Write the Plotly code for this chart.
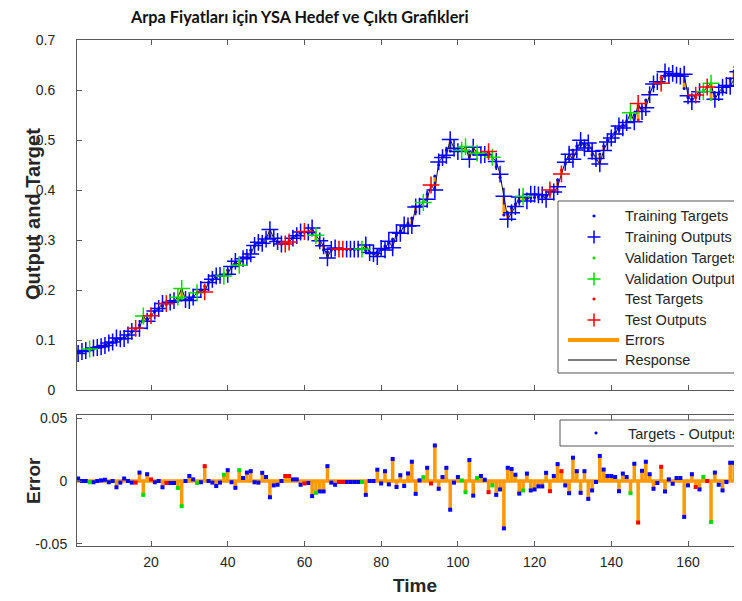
import plotly.graph_objects as go

# ---------------- data ----------------
time = list(range(1, 176))

targets = [
    0.075, 0.077, 0.079, 0.081, 0.083, 0.085, 0.087, 0.090, 0.093, 0.096,
    0.099, 0.101, 0.105, 0.110, 0.116, 0.122, 0.130, 0.137, 0.143, 0.150,
    0.157, 0.163, 0.168, 0.171, 0.174, 0.177, 0.180, 0.183, 0.181, 0.183,
    0.187, 0.193, 0.200, 0.208, 0.215, 0.220, 0.224, 0.228, 0.233, 0.240,
    0.246, 0.252, 0.258, 0.265, 0.272, 0.280, 0.288, 0.294, 0.300, 0.305,
    0.308, 0.300, 0.294, 0.292, 0.296, 0.300, 0.305, 0.310, 0.313, 0.315,
    0.314, 0.312, 0.300, 0.290, 0.280, 0.276, 0.280, 0.281, 0.281, 0.281,
    0.281, 0.281, 0.281, 0.281, 0.281, 0.279, 0.275, 0.273, 0.276, 0.281,
    0.288, 0.295, 0.302, 0.310, 0.318, 0.326, 0.334, 0.344, 0.356, 0.368,
    0.378, 0.392, 0.408, 0.428, 0.450, 0.468, 0.480, 0.478, 0.482, 0.480,
    0.480, 0.478, 0.478, 0.474, 0.476, 0.474, 0.472, 0.468, 0.462, 0.446,
    0.425, 0.350, 0.352, 0.364, 0.372, 0.376, 0.380, 0.384, 0.384, 0.385,
    0.386, 0.386, 0.388, 0.392, 0.400, 0.420, 0.440, 0.452, 0.462, 0.480,
    0.488, 0.490, 0.492, 0.480, 0.470, 0.462, 0.472, 0.488, 0.500, 0.508,
    0.515, 0.520, 0.530, 0.538, 0.545, 0.550, 0.540, 0.565, 0.580, 0.596,
    0.606, 0.615, 0.625, 0.628, 0.630, 0.631, 0.632, 0.630, 0.603, 0.585,
    0.582, 0.585, 0.590, 0.600, 0.606, 0.581, 0.588, 0.592, 0.598, 0.608,
    0.622, 0.638, 0.645, 0.645, 0.648,
]

# errors = targets - outputs
errors = [
    0.0020, 0.0000, 0.0000, -0.0010, -0.0010, 0.0000, 0.0005, 0.0010, -0.0010, 0.0000,
    -0.0050, -0.0013, 0.0020, 0.0000, -0.0013, -0.0013, 0.0067, -0.0110, 0.0054, 0.0013,
    -0.0010, 0.0000, -0.0050, -0.0016, -0.0016, -0.0016, -0.0056, -0.0200, 0.0000, 0.0040,
    0.0013, -0.0016, -0.0010, 0.0118, 0.0000, -0.0013, -0.0040, -0.0013, 0.0050, 0.0086,
    -0.0010, -0.0054, 0.0086, 0.0024, 0.0067, 0.0078, -0.0010, -0.0013, 0.0065, 0.0032,
    -0.0129, -0.0035, -0.0030, 0.0000, 0.0040, 0.0040, 0.0013, 0.0013, -0.0030, -0.0020,
    -0.0016, -0.0120, -0.0094, -0.0083, -0.0083, 0.0118, -0.0013, -0.0030, -0.0008, -0.0008,
    -0.0008, -0.0008, -0.0008, -0.0008, -0.0008, -0.0110, 0.0000, 0.0000, 0.0090, -0.0020,
    0.0078, -0.0027, 0.0175, -0.0048, 0.0046, -0.0040, 0.0060, 0.0153, -0.0102, 0.0005,
    0.0030, 0.0105, -0.0020, 0.0282, -0.0062, 0.0032, 0.0105, -0.0228, -0.0013, 0.0032,
    0.0005, -0.0089, 0.0167, -0.0116, 0.0024, 0.0040, 0.0010, -0.0089, -0.0035, -0.0110,
    -0.0067, -0.0376, 0.0105, 0.0095, 0.0050, -0.0100, -0.0075, 0.0059, -0.0075, -0.0067,
    -0.0043, -0.0043, 0.0065, -0.0081, 0.0040, 0.0134, 0.0078, -0.0035, -0.0097, 0.0185,
    0.0078, -0.0094, 0.0078, -0.0142, -0.0075, -0.0008, 0.0199, 0.0091, 0.0040, 0.0040,
    0.0032, -0.0081, 0.0059, 0.0032, -0.0097, 0.0137, -0.0330, 0.0081, 0.0153, 0.0054,
    -0.0062, -0.0016, 0.0113, -0.0083, 0.0013, -0.0022, 0.0024, 0.0024, -0.0285, -0.0035,
    0.0054, -0.0048, -0.0067, 0.0032, 0.0000, -0.0325, 0.0067, -0.0030, -0.0075, -0.0008,
    0.0145, 0.0145, 0.0086, -0.0008, 0.0050,
]

validation_idx = [4, 18, 27, 28, 32, 39, 43, 63, 75, 91, 101, 102, 105, 109, 117, 145, 164, 166]
test_idx = [16, 20, 24, 34, 55, 56, 60, 69, 70, 93, 108, 124, 127, 147, 153, 162, 165]

x_ticks = [20, 40, 60, 80, 100, 120, 140, 160]
y_ticks_top = [0, 0.1, 0.2, 0.3, 0.4, 0.5, 0.6, 0.7]
y_ticks_err = [-0.05, 0, 0.05]
y_ticklabels_err = ["-0.05", "0", "0.05"]

legend_labels = ["Training Targets", "Training Outputs", "Validation Targets",
                 "Validation Outputs", "Test Targets", "Test Outputs", "Errors", "Response"]
legend2_label = "Targets - Outputs"
title_text = "Arpa Fiyatları için YSA Hedef ve Çıktı Grafikleri"

# ---------------- derived ----------------
outputs = [round(t - e, 4) for t, e in zip(targets, errors)]
train_idx = [t for t in time if t not in validation_idx and t not in test_idx]

BLUE, GREEN, RED = "#0000FF", "#00DD00", "#FF0000"
ORANGE = "#FF9900"
AX = "#5a5a5a"
TXT = "#262626"
FONT = "Liberation Sans"

# geometry: the page body has an 8px margin, so the figure is placed at (8, 8)
OFF = 8
W, H = 742 - OFF, 601 - OFF
ML, MR, MT, MB = 77 - OFF, 0, 40 - OFF, 601 - 546
PW, PH = W - ML - MR, H - MT - MB


def px(x):  # reference-screen pixel -> paper x
    return (x - OFF - ML) / PW


def py(y):  # reference-screen pixel -> paper y
    return (H - MB - (y - OFF)) / PH


def pick(values, idx):
    return [values[i - 1] for i in idx]


fig = go.Figure()

# top plot: error segments
ex, ey = [], []
for t, tg, o in zip(time, targets, outputs):
    ex += [t, t, None]
    ey += [tg, o, None]
fig.add_trace(go.Scatter(x=ex, y=ey, mode="lines", line=dict(color=ORANGE, width=3),
                         name="Errors", xaxis="x", yaxis="y"))
# response line
fig.add_trace(go.Scatter(x=time, y=outputs, mode="lines", line=dict(color="#111111", width=1),
                         name="Response", xaxis="x", yaxis="y"))

sets = [("Training", train_idx, BLUE), ("Validation", validation_idx, GREEN),
        ("Test", test_idx, RED)]
for name, idx, col in sets:
    fig.add_trace(go.Scatter(x=idx, y=pick(targets, idx), mode="markers",
                             marker=dict(symbol="circle", size=3, color=col),
                             name=f"{name} Targets", xaxis="x", yaxis="y"))
    fig.add_trace(go.Scatter(x=idx, y=pick(outputs, idx), mode="markers",
                             marker=dict(symbol="cross-thin", size=12, color=col,
                                         line=dict(color=col, width=1.5)),
                             name=f"{name} Outputs", xaxis="x", yaxis="y"))

# error plot: stems
sx, sy = [], []
for t, e in zip(time, errors):
    sx += [t, t, t]
    sy += [0, e, 0]
fig.add_trace(go.Scatter(x=sx, y=sy, mode="lines", line=dict(color=ORANGE, width=3.5),
                         name="Errors", xaxis="x2", yaxis="y2"))
for name, idx, col in sets:
    fig.add_trace(go.Scatter(x=idx, y=pick(errors, idx), mode="markers",
                             marker=dict(symbol="square", size=4, color=col),
                             name=legend2_label, xaxis="x2", yaxis="y2"))

# ---------------- hand-drawn legends (cut by the right edge, as in the reference) ----------------
shapes = []
annotations = []
leg_left, leg_top, leg_bottom = 558, 201, 373
shapes.append(dict(type="rect", xref="paper", yref="paper", layer="above",
                   x0=px(leg_left), x1=px(742 + 30), y0=py(leg_bottom), y1=py(leg_top),
                   line=dict(color="#555", width=1), fillcolor="white"))
row_y = [216, 237, 258, 279, 299, 320, 340, 360]
sym_x, text_x = 594, 623
sym_colors = [BLUE, BLUE, GREEN, GREEN, RED, RED]
for i, label in enumerate(legend_labels):
    yy = row_y[i]
    if i < 6:
        c = sym_colors[i]
        if i % 2 == 0:  # target dot
            shapes.append(dict(type="circle", xref="paper", yref="paper", layer="above",
                               x0=px(sym_x - 1.3), x1=px(sym_x + 1.3),
                               y0=py(yy + 1.3), y1=py(yy - 1.3),
                               line=dict(color=c, width=0.5), fillcolor=c))
        else:  # output plus
            shapes.append(dict(type="line", xref="paper", yref="paper", layer="above",
                               x0=px(sym_x - 6.5), x1=px(sym_x + 6.5), y0=py(yy), y1=py(yy),
                               line=dict(color=c, width=1.5)))
            shapes.append(dict(type="line", xref="paper", yref="paper", layer="above",
                               x0=px(sym_x), x1=px(sym_x), y0=py(yy - 6.5), y1=py(yy + 6.5),
                               line=dict(color=c, width=1.5)))
    elif label == "Errors":
        shapes.append(dict(type="line", xref="paper", yref="paper", layer="above",
                           x0=px(568), x1=px(619), y0=py(yy), y1=py(yy),
                           line=dict(color=ORANGE, width=4)))
    else:
        shapes.append(dict(type="line", xref="paper", yref="paper", layer="above",
                           x0=px(568), x1=px(617), y0=py(yy), y1=py(yy),
                           line=dict(color="#555", width=1.5)))
    annotations.append(dict(text=label, xref="paper", yref="paper", x=px(text_x), y=py(yy),
                            xanchor="left", yanchor="middle", showarrow=False,
                            font=dict(family=FONT, size=14.5, color=TXT)))

# legend of the error plot
shapes.append(dict(type="rect", xref="paper", yref="paper", layer="above",
                   x0=px(560), x1=px(742 + 30), y0=py(446), y1=py(420),
                   line=dict(color="#555", width=1), fillcolor="white"))
shapes.append(dict(type="circle", xref="paper", yref="paper", layer="above",
                   x0=px(596 - 1.3), x1=px(596 + 1.3), y0=py(433 + 1.3), y1=py(433 - 1.3),
                   line=dict(color=BLUE, width=0.5), fillcolor=BLUE))
annotations.append(dict(text=legend2_label, xref="paper", yref="paper", x=px(626), y=py(434),
                        xanchor="left", yanchor="middle", showarrow=False,
                        font=dict(family=FONT, size=14.5, color=TXT)))

# titles
annotations += [
    dict(text=f"<b>{title_text}</b>", xref="paper", yref="paper", x=px(128), y=py(16),
         xanchor="left", yanchor="middle", showarrow=False,
         font=dict(family="Lato", size=16.3, color="#111")),
    dict(text="<b>Output and Target</b>", xref="paper", yref="paper", x=px(33), y=py(214),
         xanchor="center", yanchor="middle", textangle=-90, showarrow=False,
         font=dict(family=FONT, size=20, color=TXT)),
    dict(text="<b>Error</b>", xref="paper", yref="paper", x=px(33), y=py(481),
         xanchor="center", yanchor="middle", textangle=-90, showarrow=False,
         font=dict(family=FONT, size=19, color=TXT)),
    dict(text="<b>Time</b>", xref="paper", yref="paper", x=px(415), y=py(585),
         xanchor="center", yanchor="middle", showarrow=False,
         font=dict(family=FONT, size=19, color=TXT)),
]

axis_common = dict(showline=True, linecolor=AX, linewidth=1, ticks="inside", ticklen=5,
                   tickcolor=AX, showgrid=False, zeroline=False, automargin=False,
                   tickfont=dict(family=FONT, size=14, color=TXT))
xr = [0.71, 174.07]
fig.update_layout(
    width=W, height=H,
    margin=dict(l=ML, r=MR, t=MT, b=MB),
    paper_bgcolor="white", plot_bgcolor="white",
    showlegend=False,
    font=dict(family=FONT, color=TXT),
    xaxis=dict(domain=[0, 1], range=xr, anchor="y", tickvals=x_ticks, showticklabels=False,
               mirror="ticks", **axis_common),
    yaxis=dict(domain=[py(390), 1], range=[0, 0.7], tickvals=y_ticks_top, anchor="x",
               ticklabelstandoff=18, **axis_common),
    xaxis2=dict(domain=[0, 1], range=xr, anchor="y2", tickvals=x_ticks, mirror="ticks",
                ticklabelstandoff=3, **axis_common),
    yaxis2=dict(domain=[0, py(415)], range=[-0.0516, 0.0524], tickvals=y_ticks_err,
                ticktext=y_ticklabels_err, anchor="x2", ticklabelstandoff=6, **axis_common),
    shapes=shapes,
    annotations=annotations,
)

fig.write_html("out.html")
